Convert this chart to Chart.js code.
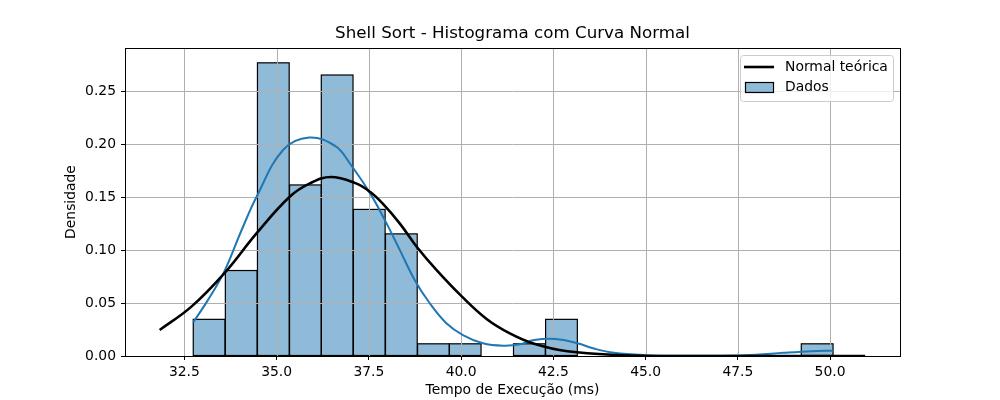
<!DOCTYPE html>
<html>
<head>
<meta charset="utf-8">
<script src="https://cdn.jsdelivr.net/npm/chart.js@4.4.0/dist/chart.umd.min.js"></script>
<style>
  html, body { margin: 0; padding: 0; background: #fff; }
  #wrap { width: 1000px; height: 400px; }
</style>
</head>
<body>
<div id="wrap"><canvas id="myChart" width="1000" height="400"></canvas></div>
<script>
// histogram bins (centres) and density of each bin
var binCenters = [33.17, 34.04, 34.91, 35.78, 36.64, 37.51, 38.38, 39.25, 40.11, 40.98,
                  41.85, 42.72, 43.58, 44.45, 45.32, 46.19, 47.05, 47.92, 48.79, 49.65];
var density = [0.0346, 0.0807, 0.2768, 0.1615, 0.2653, 0.1384, 0.1153, 0.0115, 0.0115, 0,
               0.0115, 0.0346, 0, 0, 0, 0, 0, 0, 0, 0.0115];

// KDE curve
var kdeX = [32.74, 33.14, 33.58, 34.04, 34.46, 35.18, 35.88, 36.6, 36.98, 37.53, 37.93, 38.34,
            38.74, 39.15, 39.6, 40.05, 40.59, 41.14, 41.6, 41.98, 42.56, 43.15, 43.6, 44.14,
            45.0, 46.0, 47.4, 48.0, 48.74, 49.5, 50.08];
var kdeY = [0.0318, 0.053, 0.0797, 0.118, 0.1506, 0.1947, 0.2063, 0.198, 0.182, 0.1538, 0.1285, 0.100,
            0.0718, 0.0498, 0.031, 0.0198, 0.012, 0.0097, 0.011, 0.0151, 0.016, 0.012, 0.007, 0.003,
            0.0008, 0.0003, 0.0004, 0.0012, 0.003, 0.0045, 0.005];

// theoretical normal curve
var normX = [31.83, 32.69, 33.58, 34.46, 35.36, 35.9, 36.47, 37.15, 37.53, 37.87, 38.34, 38.79,
             39.33, 40.01, 40.69, 41.32, 41.98, 42.88, 44.23, 46.0, 50.95];
var normY = [0.0246, 0.0466, 0.078, 0.116, 0.1506, 0.163, 0.169, 0.163, 0.155, 0.144, 0.125, 0.1034,
             0.0813, 0.0565, 0.035, 0.0214, 0.0116, 0.0045, 0.001, 0.0, 0.0];

var xTicks = [32.5, 35.0, 37.5, 40.0, 42.5, 45.0, 47.5, 50.0];
var yTicks = [0.00, 0.05, 0.10, 0.15, 0.20, 0.25];

var FONT = 'DejaVu Sans';
var TITLE = 'Shell Sort - Histograma com Curva Normal';

function pts(xs, ys) {
    return xs.map(function (x, i) { return { x: x, y: ys[i] }; });
}

// bar edges (centred on the bin boundary) + grid above the bars, under the lines
var gridPlugin = {
    id: 'gridOverBars',
    afterDatasetDraw: function (chart, args) {
        if (args.index !== 0) return;
        var ctx = chart.ctx, a = chart.chartArea;
        var xs = chart.scales.x, ys = chart.scales.y;
        ctx.save();
        ctx.beginPath();
        ctx.rect(a.left, a.top, a.right - a.left, a.bottom - a.top);
        ctx.clip();

        ctx.strokeStyle = '#000';
        ctx.lineWidth = 1.2;
        args.meta.data.forEach(function (bar) {
            var p = bar.getProps(['x', 'y', 'base', 'width']);
            if (p.base - p.y < 0.5) return;
            ctx.strokeRect(p.x - p.width / 2, p.y, p.width, p.base - p.y);
        });

        ctx.strokeStyle = '#b0b0b0';
        ctx.lineWidth = 1;
        xs.ticks.forEach(function (t) {
            var px = Math.round(xs.getPixelForValue(t.value)) + 0.5;
            ctx.beginPath(); ctx.moveTo(px, a.top); ctx.lineTo(px, a.bottom); ctx.stroke();
        });
        ys.ticks.forEach(function (t) {
            var py = Math.round(ys.getPixelForValue(t.value)) + 0.5;
            ctx.beginPath(); ctx.moveTo(a.left, py); ctx.lineTo(a.right, py); ctx.stroke();
        });
        ctx.restore();
    }
};

// axes frame, title and legend box
var framePlugin = {
    id: 'frameLegend',
    afterDatasetsDraw: function (chart) {
        var ctx = chart.ctx, a = chart.chartArea;
        ctx.save();
        ctx.strokeStyle = '#000';
        ctx.lineWidth = 1;
        ctx.strokeRect(Math.round(a.left) + 0.5, Math.round(a.top) + 0.5,
                       Math.round(a.right - a.left), Math.round(a.bottom - a.top));

        // title centred over the plot area
        ctx.fillStyle = '#000';
        ctx.font = '16.7px "' + FONT + '"';
        ctx.textAlign = 'center';
        ctx.textBaseline = 'middle';
        ctx.fillText(TITLE, (a.left + a.right) / 2, a.top - 14);

        // legend
        var w = 153, h = 46;
        var lx = a.right - 7 - w, ly = a.top + 7;
        ctx.beginPath();
        ctx.roundRect(lx + 0.5, ly + 0.5, w, h, 3);
        ctx.fillStyle = 'rgba(255,255,255,0.8)';
        ctx.fill();
        ctx.strokeStyle = '#cccccc';
        ctx.lineWidth = 1;
        ctx.stroke();

        var normDs = chart.data.datasets[2], barDs = chart.data.datasets[0];
        ctx.strokeStyle = normDs.borderColor;
        ctx.lineWidth = normDs.borderWidth;
        ctx.beginPath();
        ctx.moveTo(lx + 4, ly + 12); ctx.lineTo(lx + 34, ly + 12);
        ctx.stroke();

        ctx.fillStyle = barDs.backgroundColor;
        ctx.fillRect(lx + 5.5, ly + 27.5, 28, 10);
        ctx.strokeStyle = barDs.borderColor;
        ctx.lineWidth = 1.2;
        ctx.strokeRect(lx + 5.5, ly + 27.5, 28, 10);

        ctx.fillStyle = '#000';
        ctx.font = '13.9px "' + FONT + '"';
        ctx.textBaseline = 'middle';
        ctx.textAlign = 'left';
        ctx.fillText(normDs.label, lx + 45, ly + 12);
        ctx.fillText(barDs.label, lx + 45, ly + 32);
        ctx.restore();
    }
};

var ctx = document.getElementById('myChart').getContext('2d');

var myChart = new Chart(ctx, {
    type: 'bar',
    data: {
        datasets: [{
            type: 'bar',
            label: 'Dados',
            data: pts(binCenters, density),
            backgroundColor: 'rgba(31, 119, 180, 0.5)',
            borderColor: '#000',
            borderWidth: 0,
            inflateAmount: 0,
            barPercentage: 1,
            categoryPercentage: 1,
            order: 3
        }, {
            type: 'line',
            label: 'KDE',
            data: pts(kdeX, kdeY),
            borderColor: '#1f77b4',
            borderWidth: 2,
            pointRadius: 0,
            tension: 0.4,
            fill: false,
            order: 2
        }, {
            type: 'line',
            label: 'Normal teórica',
            data: pts(normX, normY),
            borderColor: '#000',
            borderWidth: 2.6,
            pointRadius: 0,
            tension: 0.4,
            fill: false,
            order: 1
        }]
    },
    options: {
        responsive: false,
        animation: false,
        layout: { padding: { left: 0, right: 100, top: 48, bottom: 0 } },
        plugins: {
            legend: { display: false },
            tooltip: { enabled: false },
            title: { display: false }
        },
        scales: {
            x: {
                type: 'linear',
                min: 30.89,
                max: 51.895,
                offset: false,
                afterBuildTicks: function (s) { s.ticks = xTicks.map(function (v) { return { value: v }; }); },
                afterFit: function (s) { s.height = 44; },
                grid: { drawOnChartArea: false, drawTicks: true, tickLength: 4, tickColor: '#000', tickWidth: 1, offset: false },
                border: { display: false },
                ticks: {
                    color: '#000',
                    padding: 4,
                    maxRotation: 0,
                    autoSkip: false,
                    font: { family: FONT, size: 13.9 },
                    callback: function (v) { return Number(v).toFixed(1); }
                },
                title: {
                    display: true,
                    text: 'Tempo de Execução (ms)',
                    color: '#000',
                    font: { family: FONT, size: 13.9 },
                    padding: { top: 0, bottom: 1 }
                }
            },
            y: {
                type: 'linear',
                min: 0,
                max: 0.2908,
                afterBuildTicks: function (s) { s.ticks = yTicks.map(function (v) { return { value: v }; }); },
                afterFit: function (s) { s.width = 125; },
                grid: { drawOnChartArea: false, drawTicks: true, tickLength: 4, tickColor: '#000', tickWidth: 1 },
                border: { display: false },
                ticks: {
                    color: '#000',
                    padding: 5,
                    autoSkip: false,
                    font: { family: FONT, size: 13.9 },
                    callback: function (v) { return Number(v).toFixed(2); }
                },
                title: {
                    display: true,
                    text: 'Densidade',
                    color: '#000',
                    font: { family: FONT, size: 13.9 },
                    padding: { top: 63, bottom: 0 }
                }
            }
        }
    },
    plugins: [gridPlugin, framePlugin]
});
</script>
</body>
</html>
